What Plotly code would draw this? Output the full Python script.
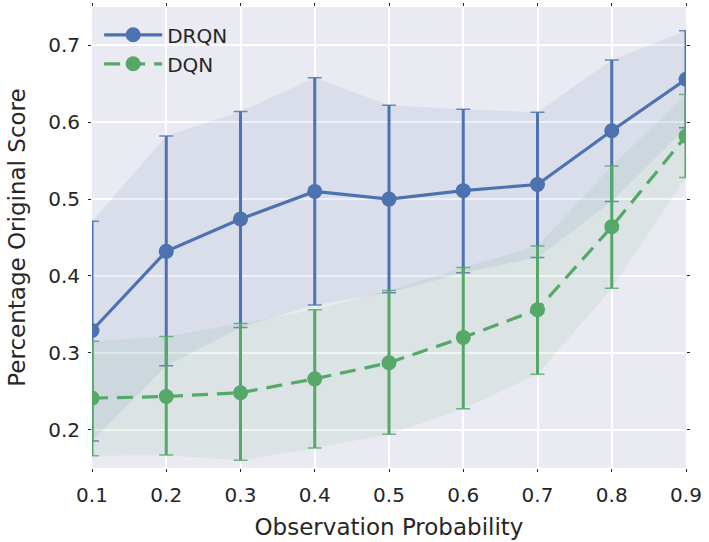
import plotly.graph_objects as go

obs_prob = [0.1, 0.2, 0.3, 0.4, 0.5, 0.6, 0.7, 0.8, 0.9]

drqn_mean = [0.329, 0.432, 0.474, 0.510, 0.500, 0.511, 0.519, 0.589, 0.656]
drqn_upper = [0.471, 0.582, 0.614, 0.658, 0.622, 0.617, 0.613, 0.681, 0.719]
drqn_lower = [0.185, 0.283, 0.333, 0.362, 0.378, 0.404, 0.424, 0.497, 0.593]

dqn_mean = [0.241, 0.243, 0.248, 0.266, 0.287, 0.320, 0.356, 0.464, 0.582]
dqn_upper = [0.315, 0.321, 0.338, 0.356, 0.381, 0.411, 0.439, 0.543, 0.636]
dqn_lower = [0.166, 0.167, 0.160, 0.176, 0.194, 0.227, 0.272, 0.384, 0.528]

x_ticks = [0.1, 0.2, 0.3, 0.4, 0.5, 0.6, 0.7, 0.8, 0.9]
y_ticks = [0.2, 0.3, 0.4, 0.5, 0.6, 0.7]

BLUE = "#4C72B0"
GREEN = "#55A868"
FONT = "DejaVu Sans"

fig = go.Figure()

def band(x, lo, hi, rgba):
    fig.add_trace(go.Scatter(x=x, y=hi, mode="lines", line=dict(width=0),
                             showlegend=False, hoverinfo="skip"))
    fig.add_trace(go.Scatter(x=x, y=lo, mode="lines", line=dict(width=0),
                             fill="tonexty", fillcolor=rgba,
                             showlegend=False, hoverinfo="skip"))

band(obs_prob, drqn_lower, drqn_upper, "rgba(76,114,176,0.10)")
band(obs_prob, dqn_lower, dqn_upper, "rgba(85,168,104,0.10)")

def series(mean, lo, hi, color, name, dash):
    plus = [h - m for h, m in zip(hi, mean)]
    minus = [m - l for m, l in zip(mean, lo)]
    # thin caps
    fig.add_trace(go.Scatter(
        x=obs_prob, y=mean, mode="markers", showlegend=False, hoverinfo="skip",
        marker=dict(color=color, size=1, opacity=0),
        opacity=0.8,
        error_y=dict(type="data", array=plus, arrayminus=minus,
                     color=color, thickness=1.5, width=7, visible=True),
    ))
    fig.add_trace(go.Scatter(
        x=obs_prob, y=mean, name=name, mode="lines+markers", legendgroup=name,
        line=dict(color=color, width=3.2, dash=dash),
        marker=dict(color=color, size=15),
        error_y=dict(type="data", array=plus, arrayminus=minus,
                     color=color, thickness=3, width=0, visible=True),
    ))

series(drqn_mean, drqn_lower, drqn_upper, BLUE, "DRQN", "solid")
series(dqn_mean, dqn_lower, dqn_upper, GREEN, "DQN", "16px,9px")

fig.update_layout(
    width=709, height=542,
    margin=dict(l=92, r=21, t=7, b=72),
    paper_bgcolor="white",
    plot_bgcolor="#EAEAF2",
    font=dict(family=FONT, size=20, color="#262626"),
    showlegend=True,
    legend=dict(x=0.012, y=0.982, xanchor="left", yanchor="top",
                bgcolor="rgba(0,0,0,0)", font=dict(size=20),
                traceorder="normal", tracegroupgap=8, itemwidth=58),
)
fig.update_xaxes(
    range=[0.1, 0.9], tickvals=x_ticks, ticktext=[f"{v:.1f}" for v in x_ticks],
    showgrid=True, gridcolor="white", gridwidth=2, zeroline=False,
    ticks="outside", ticklen=3, tickcolor="#262626", tickwidth=1, mirror="ticks",
    showline=False, ticklabelstandoff=6,
    title=dict(text="Observation Probability", font=dict(size=23), standoff=12),
)
fig.update_yaxes(
    range=[0.15, 0.75], tickvals=y_ticks, ticktext=[f"{v:.1f}" for v in y_ticks],
    showgrid=True, gridcolor="white", gridwidth=2, zeroline=False,
    ticks="outside", ticklen=3, tickcolor="#262626", tickwidth=1, mirror="ticks",
    showline=False, ticklabelstandoff=4,
    title=dict(text="Percentage Original Score", font=dict(size=23), standoff=16),
)

fig.write_html("out.html", config={"displayModeBar": False},
               post_script="document.body.style.margin='0';")
